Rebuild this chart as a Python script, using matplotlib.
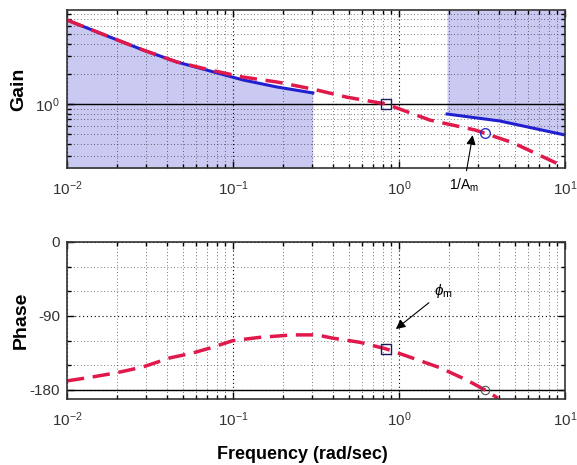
import matplotlib
matplotlib.use("Agg")
import matplotlib.pyplot as plt
from matplotlib.ticker import LogLocator, NullFormatter, FixedLocator, FixedFormatter

plt.rcParams['font.family'] = ['Liberation Sans', 'DejaVu Sans']
plt.rcParams['mathtext.fontset'] = 'custom'
plt.rcParams['mathtext.rm'] = 'Liberation Sans'
plt.rcParams['mathtext.it'] = 'Liberation Sans:italic'

# gain, compensated loop (red dashed)
freq_red = [0.01, 0.0181, 0.0287, 0.046, 0.0727, 0.115, 0.184, 0.303, 0.486, 0.836,
            1.54, 2.87, 4.86, 10.0]
gain_red = [6.92, 4.68, 3.47, 2.63, 2.19, 1.86, 1.66, 1.41, 1.17, 1.0,
            0.69, 0.55, 0.41, 0.234]
# gain bound (blue), low and high frequency parts
freq_blue_lo = [0.01, 0.0181, 0.0287, 0.046, 0.0727, 0.115, 0.184, 0.303]
gain_blue_lo = [6.92, 4.68, 3.47, 2.63, 2.14, 1.74, 1.48, 1.29]
freq_blue_hi = [1.95, 4.06, 10.0]
gain_blue_hi = [0.794, 0.676, 0.49]

# phase (red dashed)
freq_ph = [0.01, 0.0144, 0.02, 0.0287, 0.0417, 0.0574, 0.0727, 0.1, 0.145, 0.23,
           0.321, 0.4, 0.582, 0.836, 1.164, 1.77, 2.57, 3.3, 3.95]
phase = [-169, -164, -159, -152, -141, -135, -129, -120, -116, -113,
         -113, -117, -122, -130, -140, -153, -168, -180, -190]

# crossover points
wc, gc, pc = 0.836, 1.0, -130
wg, gg, pg = 3.3, 0.51, -180

lav = '#c9c9f2'
red = '#e0194a'
blue = '#2020d0'

fig = plt.figure(figsize=(5.77, 4.65), dpi=100)
ax1 = fig.add_axes([0.116, 0.6387, 0.863, 0.3398])
ax2 = fig.add_axes([0.116, 0.1419, 0.863, 0.3377])

ylo, yhi = 10 ** -0.64, 10 ** 0.94

# top: gain
ax1.set_xscale('log')
ax1.set_yscale('log')
ax1.fill_between(freq_blue_lo, ylo, gain_blue_lo, color=lav, lw=0)
ax1.fill_between(freq_blue_hi, gain_blue_hi, yhi, color=lav, lw=0)
ax1.axhline(1.0, color='k', lw=1)
ax1.plot(freq_blue_lo, gain_blue_lo, color=blue, lw=2.2)
ax1.plot(freq_blue_hi, gain_blue_hi, color=blue, lw=2.2)
ax1.plot(freq_red, gain_red, color=red, lw=2.5, dashes=(5, 2.5))
ax1.plot(wc, gc, 's', mfc='none', mec='#1a1a60', ms=7, mew=1)
ax1.plot(wg, gg, 'o', mfc='none', mec='#3030c0', ms=7, mew=1)
ax1.annotate('1/A$_{\\rm m}$', xy=(2.8, 0.52), xytext=(2.47, 0.155),
             ha='center', va='center', fontsize=10, annotation_clip=False,
             arrowprops=dict(arrowstyle='-|>', color='k', lw=0.8, mutation_scale=14))
ax1.set_xlim(0.01, 10)
ax1.set_ylim(ylo, yhi)
ax1.yaxis.set_major_locator(FixedLocator([1.0]))
ax1.yaxis.set_major_formatter(FixedFormatter(['$10^{0}$']))
ax1.yaxis.set_minor_locator(LogLocator(base=10, subs=range(2, 10), numticks=20))
ax1.yaxis.set_minor_formatter(NullFormatter())
ax1.set_ylabel('Gain', fontsize=14, fontweight='bold', labelpad=6)

# bottom: phase
ax2.set_xscale('log')
ax2.axhline(-180, color='k', lw=1)
ax2.plot(freq_ph, phase, color=red, lw=2.5, dashes=(5, 2.5))
ax2.plot(wc, pc, 's', mfc='none', mec='#1a1a60', ms=7, mew=1)
ax2.plot(wg, pg, 'o', mfc='none', mec='#505050', ms=6, mew=0.8)
ax2.annotate('$\\phi_{\\rm m}$', xy=(0.93, -108), xytext=(1.85, -60),
             ha='center', va='center', fontsize=11,
             arrowprops=dict(arrowstyle='-|>', color='k', lw=0.8, mutation_scale=14))
ax2.set_xlim(0.01, 10)
ax2.set_ylim(-191, 0)
ax2.set_yticks([-180, -90, 0])
ax2.set_yticklabels(['-180', '-90', '0'])
ax2.set_yticks([-150, -120, -60, -30], minor=True)
ax2.set_ylabel('Phase', fontsize=14, fontweight='bold', labelpad=0)
ax2.set_xlabel('Frequency (rad/sec)', fontsize=13, fontweight='bold')
ax2.xaxis.set_label_coords(0.472, -0.30)

for ax in (ax1, ax2):
    ax.xaxis.set_major_locator(FixedLocator([0.01, 0.1, 1, 10]))
    ax.xaxis.set_major_formatter(FixedFormatter(['$10^{-2}$', '$10^{-1}$', '$10^{0}$', '$10^{1}$']))
    ax.xaxis.set_minor_locator(LogLocator(base=10, subs=range(2, 10), numticks=20))
    ax.xaxis.set_minor_formatter(NullFormatter())
    ax.tick_params(which='both', direction='in', top=True, right=True, labelsize=11,
                   labelcolor='#333333', width=1)
    ax.tick_params(axis='x', which='major', pad=8, length=5)
    ax.tick_params(axis='y', which='major', pad=5, length=5)
    ax.tick_params(which='minor', length=3)
    ax.grid(True, which='major', color='k', ls=(0, (1, 2.5)), lw=0.8)
    ax.grid(True, which='minor', color='k', ls=(0, (1, 3)), lw=0.6, alpha=0.7)
    for s in ax.spines.values():
        s.set_linewidth(1.2)
        s.set_color('#333333')

fig.savefig('out.png', dpi=100)
